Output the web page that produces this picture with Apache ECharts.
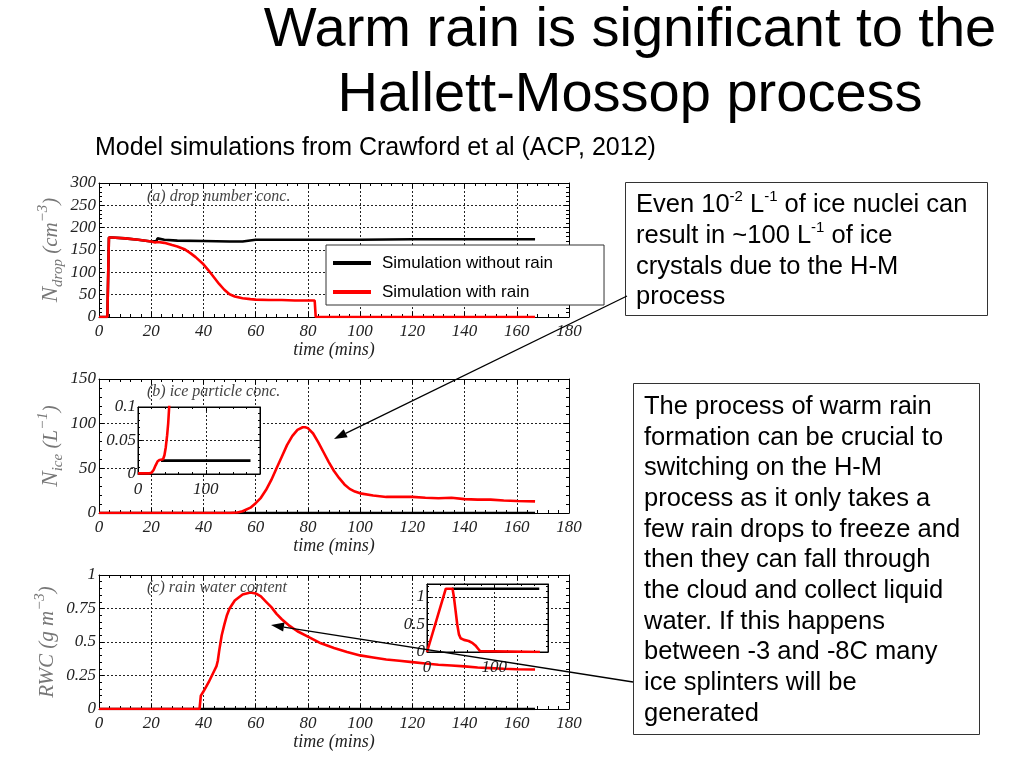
<!DOCTYPE html>
<html>
<head>
<meta charset="utf-8">
<script src="https://cdn.jsdelivr.net/npm/echarts@6/dist/echarts.min.js"></script>
<style>html,body{margin:0;padding:0;background:#fff}#c{width:1024px;height:768px}</style>
</head>
<body>
<div id="c"></div>
<script>
// ---------- data (time in minutes, value) ----------
const seriesNames = ['Simulation without rain', 'Simulation with rain'];

// (a) drop number concentration, cm^-3
const dropNoRain = [[0,0],[3.2,0],[3.8,178],[5,178],[10,176],[15,173],[20,169],[22,170],[22.4,176],[25,173],[30,171],[40,170],[50,169],[55,169],[55.6,173],[60,173],[80,173],[100,173],[120,174],[140,174],[167,174]];
const dropRain = [[0,0],[3.2,0],[3.8,178],[5,178],[10,176],[15,173],[20,169],[21.5,167],[22,163],[22.6,168],[25,166],[28,161],[30,158],[33,151],[35,143],[37,134],[40,118],[42,104],[44,89],[46,74],[48,61],[50,51],[52,46],[55,42],[58,40],[60,39],[65,38],[70,38],[75,37],[80,37],[82.6,37],[83,0],[167,0]];

// (b) ice particle concentration, L^-1
const iceNoRain = [[0,0],[34,0.02],[167,0.02]];
const iceRain = [[0,0],[50,0],[53,0.5],[55,2],[58,6],[60,11],[62,17],[64,26],[66,37],[68,50],[70,63],[72,76],[74,86],[76,93],[78,96],[79,96],[80,95],[82,89],[84,79],[86,68],[88,57],[90,47],[92,39],[94,32],[96,27],[98,24],[100,22],[105,19.5],[110,18],[115,18],[120,18],[125,17],[130,16.5],[135,17],[140,15.5],[145,15],[150,15],[155,14],[160,13.5],[167,13]];
const iceInsetNoRain = [[34,0.02],[166,0.02]];
const iceInsetRain = [[0,0.001],[17,0.001],[20,0.002],[23,0.006],[26,0.013],[29,0.019],[32,0.021],[37,0.022],[39,0.028],[41,0.04],[43,0.058],[44.5,0.075],[46,0.1],[47,0.12]];

// (c) rain water content, g m^-3
const rwcNoRain = [[0,0],[167,0]];
const rwcRain = [[0,0],[38.5,0],[39,0.1],[40,0.13],[42,0.2],[44,0.28],[45,0.32],[45.5,0.36],[46,0.43],[47,0.55],[48,0.63],[49,0.7],[50,0.75],[52,0.81],[55,0.855],[58,0.87],[60,0.862],[62,0.84],[64,0.8],[66,0.76],[68,0.71],[70,0.67],[73,0.62],[76,0.58],[80,0.54],[85,0.49],[90,0.455],[95,0.425],[100,0.4],[105,0.385],[110,0.37],[115,0.36],[120,0.35],[125,0.34],[130,0.33],[135,0.325],[140,0.318],[145,0.31],[150,0.305],[155,0.3],[160,0.297],[167,0.295]];
const rwcInsetNoRain = [[37,1.15],[167,1.15]];
const rwcInsetRain = [[0,0],[28,1.15],[38,1.15],[40,1.0],[42.5,0.75],[45,0.5],[47.5,0.32],[50,0.25],[55,0.22],[62,0.2],[68,0.16],[72,0.12],[76,0.06],[79,0.015],[81,0],[168,0]];

// ---------- text ----------
const titleLines = ['Warm rain is significant to the', 'Hallett-Mossop process'];
const subtitle = 'Model simulations from Crawford et al (ACP, 2012)';
const panelLabels = ['(a) drop number conc.', '(b) ice particle conc.', '(c) rain water content'];
const box1Text = 'Even 10{sup|-2} L{sup|-1} of ice nuclei can\nresult in ~100 L{sup|-1} of ice\ncrystals due to the H-M\nprocess';
const box2Text = 'The process of warm rain\nformation can be crucial to\nswitching on the H-M\nprocess as it only takes a\nfew rain drops to freeze and\nthen they can fall through\nthe cloud and collect liquid\nwater. If this happens\nbetween -3 and -8C many\nice splinters will be\ngenerated';

// ---------- styles ----------
const SERIF = '"Liberation Serif","Times New Roman",serif';
const SANS = '"Liberation Sans",Arial,Helvetica,sans-serif';
const BLACK = '#000000';
const RED = '#ff0000';
const gridLine = { show: true, lineStyle: { color: '#222', type: [2, 2], width: 1 } };
const tickFont = { fontFamily: SERIF, fontStyle: 'italic', fontSize: 17, color: '#222' };

const xAxes = [], yAxes = [];
function addAxes(gi, xmin, xmax, xint, ymin, ymax, yint, opts) {
  const z = opts.z || 0;
  const common = {
    axisLine: { show: true, onZero: false, lineStyle: { color: '#000', width: 1 } },
    axisTick: { show: true, inside: true, length: opts.tick || 5, lineStyle: { color: '#000' } },
    minorTick: { show: true, splitNumber: 5, length: (opts.tick || 5) - 2, lineStyle: { color: '#000' } },
    z: z
  };
  xAxes.push(Object.assign({
    type: 'value', gridIndex: gi, min: xmin, max: xmax, interval: xint, position: 'bottom',
    name: opts.xName || '', nameLocation: 'middle', nameGap: 22,
    nameTextStyle: { fontFamily: SERIF, fontStyle: 'italic', fontSize: 18, color: '#222' },
    axisLabel: Object.assign({ margin: opts.xMargin || 6, showMaxLabel: opts.showMax !== false }, tickFont),
    splitLine: gridLine
  }, common));
  xAxes.push(Object.assign({
    type: 'value', gridIndex: gi, min: xmin, max: xmax, interval: xint, position: 'top',
    axisLabel: { show: false }, splitLine: { show: false }
  }, common));
  yAxes.push(Object.assign({
    type: 'value', gridIndex: gi, min: ymin, max: ymax, interval: yint, position: 'left',
    name: opts.yName || '', nameLocation: 'middle', nameGap: opts.yNameGap || 33,
    nameTextStyle: opts.yNameStyle || {},
    axisLabel: Object.assign({ margin: opts.yMargin || 3, showMaxLabel: opts.showMaxY !== false }, tickFont),
    splitLine: gridLine
  }, common));
  yAxes.push(Object.assign({
    type: 'value', gridIndex: gi, min: ymin, max: ymax, interval: yint, position: 'right',
    axisLabel: { show: false }, splitLine: { show: false }
  }, common));
}

const nameRich = {
  n: { fontFamily: SERIF, fontStyle: 'italic', fontSize: 23, color: '#777' },
  t: { fontFamily: SERIF, fontStyle: 'italic', fontSize: 21, color: '#777' },
  sub: { fontFamily: SERIF, fontStyle: 'italic', fontSize: 15, color: '#777', verticalAlign: 'bottom', lineHeight: 14 },
  sup: { fontFamily: SERIF, fontStyle: 'italic', fontSize: 15, color: '#777', verticalAlign: 'top', lineHeight: 14 }
};
const yNameStyle = { rich: nameRich, lineHeight: 30 };

addAxes(0, 0, 180, 20, 0, 300, 50, { xName: 'time (mins)', yName: '{n|N}{sub|drop}{t| (cm}{sup|−3}{t|)}', yNameStyle });
addAxes(1, 0, 180, 20, 0, 150, 50, { xName: 'time (mins)', yName: '{n|N}{sub|ice}{t| (L}{sup|−1}{t|)}', yNameStyle });
addAxes(2, 0, 180, 20, 0, 1, 0.25, { xName: 'time (mins)', yName: '{t|RWC (g m}{sup|−3}{t|)}', yNameStyle });
addAxes(3, 0, 180, 100, 0, 0.1, 0.05, { z: 4, tick: 4, showMax: false, xMargin: 7, yMargin: 2 });
addAxes(4, 0, 180, 100, 0, 1.235, 0.5, { z: 4, tick: 4, showMax: false, showMaxY: false, xMargin: 7, yMargin: 2 });

function line(name, data, color, xi, z) {
  return {
    type: 'line', name: name, data: data, xAxisIndex: xi, yAxisIndex: xi,
    showSymbol: false, symbol: 'none', clip: true, z: z || 2,
    lineStyle: { color: color, width: 2.6 }, itemStyle: { color: color },
    animation: false
  };
}

const series = [
  line(seriesNames[0], dropNoRain, BLACK, 0),
  line(seriesNames[1], dropRain, RED, 0),
  line(seriesNames[0], iceNoRain, BLACK, 2),
  line(seriesNames[1], iceRain, RED, 2),
  line(seriesNames[0], rwcNoRain, BLACK, 4),
  line(seriesNames[1], rwcRain, RED, 4),
  line(seriesNames[0], iceInsetNoRain, BLACK, 6, 6),
  line(seriesNames[1], iceInsetRain, RED, 6, 6),
  line(seriesNames[0], rwcInsetNoRain, BLACK, 8, 6),
  line(seriesNames[1], rwcInsetRain, RED, 8, 6)
];

// ---------- annotation graphics ----------
function arrow(x1, y1, x2, y2) {
  const dx = x2 - x1, dy = y2 - y1, len = Math.sqrt(dx * dx + dy * dy);
  const ux = dx / len, uy = dy / len, L = 13, W = 4.5;
  const bx = x2 - ux * L, by = y2 - uy * L;
  return [
    { type: 'line', z: 100, shape: { x1: x1, y1: y1, x2: bx, y2: by }, style: { stroke: '#000', lineWidth: 1.3 } },
    { type: 'polygon', z: 100, shape: { points: [[x2, y2], [bx - uy * W, by + ux * W], [bx + uy * W, by - ux * W]] }, style: { fill: '#000' } }
  ];
}

const boxRich = { sup: { fontFamily: SANS, fontSize: 15, verticalAlign: 'top', lineHeight: 24, fill: '#000' } };

const graphics = [
  { type: 'text', x: 630, y: 31, z: 50, style: { text: titleLines[0], font: '56px ' + SANS, fill: '#000', textAlign: 'center', textVerticalAlign: 'middle' } },
  { type: 'text', x: 630, y: 96, z: 50, style: { text: titleLines[1], font: '56px ' + SANS, fill: '#000', textAlign: 'center', textVerticalAlign: 'middle' } },
  { type: 'text', x: 95, y: 148, z: 50, style: { text: subtitle, font: '25px ' + SANS, fill: '#000', textAlign: 'left', textVerticalAlign: 'middle' } },
  { type: 'text', x: 147, y: 197, z: 50, style: { text: panelLabels[0], font: 'italic 16px ' + SERIF, fill: '#444', textAlign: 'left', textVerticalAlign: 'middle' } },
  { type: 'text', x: 147, y: 392, z: 50, style: { text: panelLabels[1], font: 'italic 16px ' + SERIF, fill: '#444', textAlign: 'left', textVerticalAlign: 'middle' } },
  { type: 'text', x: 147, y: 588, z: 50, style: { text: panelLabels[2], font: 'italic 16px ' + SERIF, fill: '#444', textAlign: 'left', textVerticalAlign: 'middle' } },
  { type: 'rect', z: 60, shape: { x: 625.5, y: 182.5, width: 362, height: 133 }, style: { fill: '#fff', stroke: '#333', lineWidth: 1 } },
  { type: 'text', x: 636, y: 189.5, z: 61, style: { text: box1Text, fontFamily: SANS, fontSize: 25.5, lineHeight: 30.8, fill: '#000', textAlign: 'left', textVerticalAlign: 'top', rich: boxRich } },
  { type: 'rect', z: 60, shape: { x: 633.5, y: 383.5, width: 346, height: 351 }, style: { fill: '#fff', stroke: '#333', lineWidth: 1 } },
  { type: 'text', x: 644, y: 391.5, z: 61, style: { text: box2Text, fontFamily: SANS, fontSize: 25.5, lineHeight: 30.7, fill: '#000', textAlign: 'left', textVerticalAlign: 'top' } }
].concat(arrow(627, 296, 334, 439)).concat(arrow(633, 682, 271, 625));

const option = {
  backgroundColor: '#fff',
  animation: false,
  grid: [
    { left: 99, top: 183, width: 470, height: 134, containLabel: false },
    { left: 99, top: 379, width: 470, height: 134, containLabel: false },
    { left: 99, top: 575, width: 470, height: 134, containLabel: false },
    { left: 138, top: 407, width: 122, height: 67, show: true, backgroundColor: '#fff', borderColor: '#000', borderWidth: 1, z: 3 },
    { left: 427, top: 584, width: 121, height: 68, show: true, backgroundColor: '#fff', borderColor: '#000', borderWidth: 1, z: 3 }
  ],
  xAxis: xAxes,
  yAxis: yAxes,
  legend: {
    orient: 'vertical', left: 326, top: 245,
    data: seriesNames,
    icon: 'rect', itemWidth: 38, itemHeight: 4, itemGap: 9,
    backgroundColor: '#fff', borderColor: '#333', borderWidth: 1, borderRadius: 0,
    padding: [8, 51, 3, 7],
    textStyle: { fontFamily: SANS, fontSize: 17, color: '#000', lineHeight: 20, padding: [0, 0, 0, 6] },
    selectedMode: false, z: 10
  },
  series: series,
  graphic: graphics
};

const chart = echarts.init(document.getElementById('c'), null, { renderer: 'canvas' });
chart.setOption(option);
</script>
</body>
</html>
